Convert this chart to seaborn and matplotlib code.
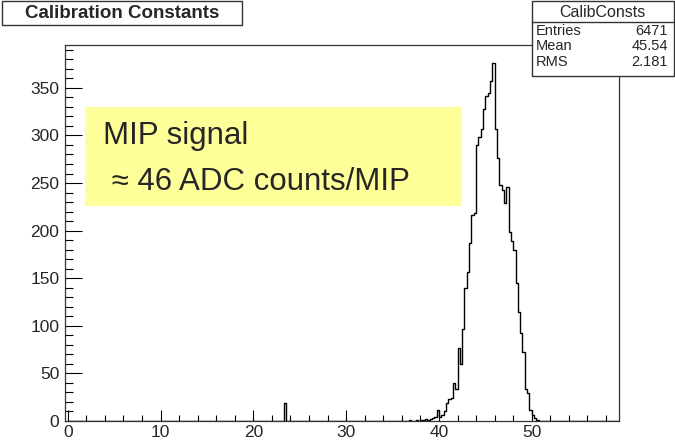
import numpy as np
import pandas as pd
import matplotlib
matplotlib.use("Agg")
import matplotlib.pyplot as plt
import seaborn as sns
from matplotlib.patches import Rectangle
from matplotlib.lines import Line2D
from matplotlib.ticker import MultipleLocator

# ---- data ----
bin_width = 0.25
bin_left = [23.25, 36.75, 37.5, 38.0,
            38.25, 38.5, 38.75, 39.0, 39.25, 39.5, 39.75, 40.0, 40.25, 40.5,
            40.75, 41.0, 41.25, 41.5, 41.75, 42.0, 42.25, 42.5, 42.75, 43.0,
            43.25, 43.5, 43.75, 44.0, 44.25, 44.5, 44.75, 45.0, 45.25, 45.5,
            45.75, 46.0, 46.25, 46.5, 46.75, 47.0, 47.25, 47.5, 47.75, 48.0,
            48.25, 48.5, 48.75, 49.0, 49.25, 49.5, 49.75, 50.0, 50.25, 50.5]
counts = [19, 1, 1, 1,
          1, 2, 1, 2, 3, 4, 12, 4, 6, 10,
          19, 23, 24, 40, 34, 77, 60, 97, 140, 157,
          187, 216, 219, 290, 298, 307, 328, 341, 345, 357,
          376, 307, 276, 248, 243, 229, 246, 199, 189, 180,
          145, 115, 92, 73, 34, 29, 12, 6, 3, 1]
x_ticks = [0, 10, 20, 30, 40, 50]
y_ticks = [0, 50, 100, 150, 200, 250, 300, 350]
title = "Calibration Constants"
stats_name = "CalibConsts"
stats_rows = [("Entries", "6471"), ("Mean", "45.54"), ("RMS", "2.181")]
note_lines = ["MIP signal", " \u2248 46 ADC counts/MIP"]

df = pd.DataFrame({"x": np.array(bin_left) + bin_width / 2, "n": counts})

sns.set_style("white")
plt.rcParams["font.family"] = ["Liberation Sans", "DejaVu Sans"]

fig = plt.figure(figsize=(6.75, 4.46), dpi=100)
ax = fig.add_axes([0.0963, 0.0561, 0.917 - 0.0963, 0.899 - 0.0561])

edges = [round(i * bin_width, 2) for i in range(0, 238)]
sns.histplot(data=df, x="x", weights="n", bins=edges, element="step",
             fill=False, color="black", linewidth=1.0, ax=ax)

ax.set_xlim(-0.3, 59.4)
ax.set_ylim(0, 395)
ax.set_xlabel("")
ax.set_ylabel("")
ax.set_xticks(x_ticks)
ax.set_yticks(y_ticks)
ax.xaxis.set_minor_locator(MultipleLocator(2))
ax.yaxis.set_minor_locator(MultipleLocator(10))
ax.tick_params(axis="x", which="major", direction="in", length=8, width=0.8,
               labelsize=12.5, pad=3, bottom=True, top=False, color="black")
ax.tick_params(axis="x", which="minor", direction="in", length=4, width=0.8,
               bottom=True, top=False, color="black")
ax.tick_params(axis="y", which="major", direction="in", length=12, width=0.8,
               labelsize=12.5, pad=4, left=True, right=False, color="black")
ax.tick_params(axis="y", which="minor", direction="in", length=6, width=0.8,
               left=True, right=False, color="black")
for s in ax.spines.values():
    s.set_visible(True)
    s.set_color("#333333")
    s.set_linewidth(0.9)

# yellow annotation box
fig.patches.append(Rectangle((0.126, 0.538), 0.684 - 0.126, 0.760 - 0.538,
                             transform=fig.transFigure, facecolor="#ffff99",
                             edgecolor="none", zorder=5))
fig.text(0.153, 0.695, note_lines[0], fontsize=22.5, va="center", ha="left",
         zorder=6)
fig.text(0.153, 0.592, note_lines[1], fontsize=22.5, va="center", ha="left",
         zorder=6)

# title box
fig.patches.append(Rectangle((0.003, 0.944), 0.3585 - 0.003, 0.998 - 0.944,
                             transform=fig.transFigure, facecolor="white",
                             edgecolor="#333333", linewidth=1.0, zorder=5))
fig.text(0.181, 0.970, title, fontsize=13.5, fontweight="bold",
         ha="center", va="center", zorder=6)

# stats box
sx0, sx1, sy0, sy1 = 0.788, 0.998, 0.830, 0.998
fig.patches.append(Rectangle((sx0, sy0), sx1 - sx0, sy1 - sy0,
                             transform=fig.transFigure, facecolor="white",
                             edgecolor="#333333", linewidth=1.0, zorder=5))
fig.lines.append(Line2D([sx0, sx1], [0.951, 0.951], transform=fig.transFigure,
                        color="#333333", linewidth=1.0, zorder=6))
fig.text((sx0 + sx1) / 2, 0.973, stats_name, fontsize=11.5, ha="center",
         va="center", zorder=6)
for (lab, val), yy in zip(stats_rows, [0.9316, 0.8969, 0.8621]):
    fig.text(0.794, yy, lab, fontsize=10.5, ha="left", va="center", zorder=6)
    fig.text(0.990, yy, val, fontsize=10.5, ha="right", va="center", zorder=6)

fig.savefig("out.png", dpi=100)
